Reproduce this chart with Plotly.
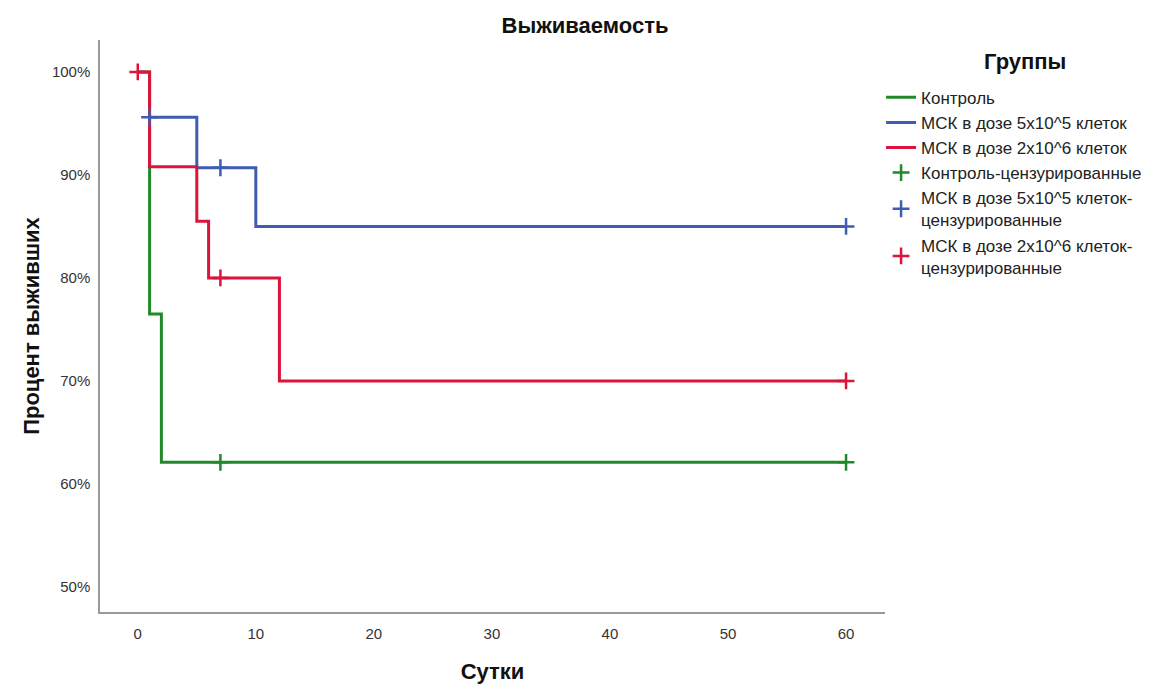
import plotly.graph_objects as go

# Kaplan-Meier step data (days, % surviving)
ctrl_t = [0, 1, 2, 60]
ctrl_s = [100, 76.5, 62.1, 62.1]
ctrl_cens_t = [7, 60]
ctrl_cens_s = [62.1, 62.1]

low_t = [1, 5, 10, 60]
low_s = [95.6, 90.7, 85.0, 85.0]
low_cens_t = [1, 7, 60]
low_cens_s = [95.6, 90.7, 85.0]

high_t = [0, 1, 5, 6, 12, 60]
high_s = [100, 90.8, 85.5, 80.0, 70.0, 70.0]
high_cens_t = [0, 7, 60]
high_cens_s = [100, 80.0, 70.0]

names = ["Контроль", "МСК в дозе 5x10^5 клеток", "МСК в дозе 2x10^6 клеток"]
cens_names = ["Контроль-цензурированные",
              "МСК в дозе 5x10^5 клеток-<br>цензурированные",
              "МСК в дозе 2x10^6 клеток-<br>цензурированные"]
colors = ["#22892a", "#3f5cb0", "#dc143c"]

x_ticks = [0, 10, 20, 30, 40, 50, 60]
y_ticks = [50, 60, 70, 80, 90, 100]
y_labels = ["50%", "60%", "70%", "80%", "90%", "100%"]

fig = go.Figure()
for t, s, n, c in zip([ctrl_t, low_t, high_t], [ctrl_s, low_s, high_s], names, colors):
    fig.add_trace(go.Scatter(x=t, y=s, mode="lines", line=dict(color=c, width=3, shape="hv"),
                             name=n))
for t, s, n, c in zip([ctrl_cens_t, low_cens_t, high_cens_t], [ctrl_cens_s, low_cens_s, high_cens_s],
                      cens_names, colors):
    fig.add_trace(go.Scatter(x=t, y=s, mode="markers", name=n,
                             marker=dict(symbol="cross-thin", size=12, line=dict(color=c, width=2.5))))

font_family = "Liberation Sans, Arial, sans-serif"
fig.update_layout(
    width=1158, height=684,
    margin=dict(l=100, r=273, t=40, b=72, autoexpand=False),
    plot_bgcolor="white", paper_bgcolor="white",
    font=dict(family=font_family, color="#222"),
    title=dict(text="<b>Выживаемость</b>", x=585 / 1158, xanchor="center", y=1 - 25 / 684,
               yanchor="middle", font=dict(size=22, color="#111")),
    xaxis=dict(range=[-3.2, 63.3], tickvals=x_ticks, showgrid=False, zeroline=False,
               showline=True, linecolor="#999", linewidth=1.5, ticks="", ticklabelstandoff=7,
               automargin=False,
               tickfont=dict(size=15, color="#333"),
               title=dict(text="<b>Сутки</b>", font=dict(size=22, color="#111"), standoff=24)),
    yaxis=dict(range=[47.57, 103.1], tickvals=y_ticks, ticktext=y_labels, showgrid=False,
               automargin=False,
               zeroline=False, showline=True, linecolor="#999", linewidth=1.5, ticks="",
               ticklabelstandoff=5, tickfont=dict(size=15, color="#333"),
               title=dict(text="<b>Процент выживших</b>", font=dict(size=22, color="#111"), standoff=6)),
    legend=dict(x=0.995, xanchor="left", y=0.9305, yanchor="top",
                font=dict(size=17, color="#222"), bgcolor="rgba(0,0,0,0)"),
    annotations=[dict(text="<b>Группы</b>", xref="paper", yref="paper",
                      x=(1025 - 100) / 785, y=1 - (62 - 40) / 572, xanchor="center", yanchor="middle",
                      showarrow=False, font=dict(size=22, color="#111"))],
)
fig.write_html("out.html")
